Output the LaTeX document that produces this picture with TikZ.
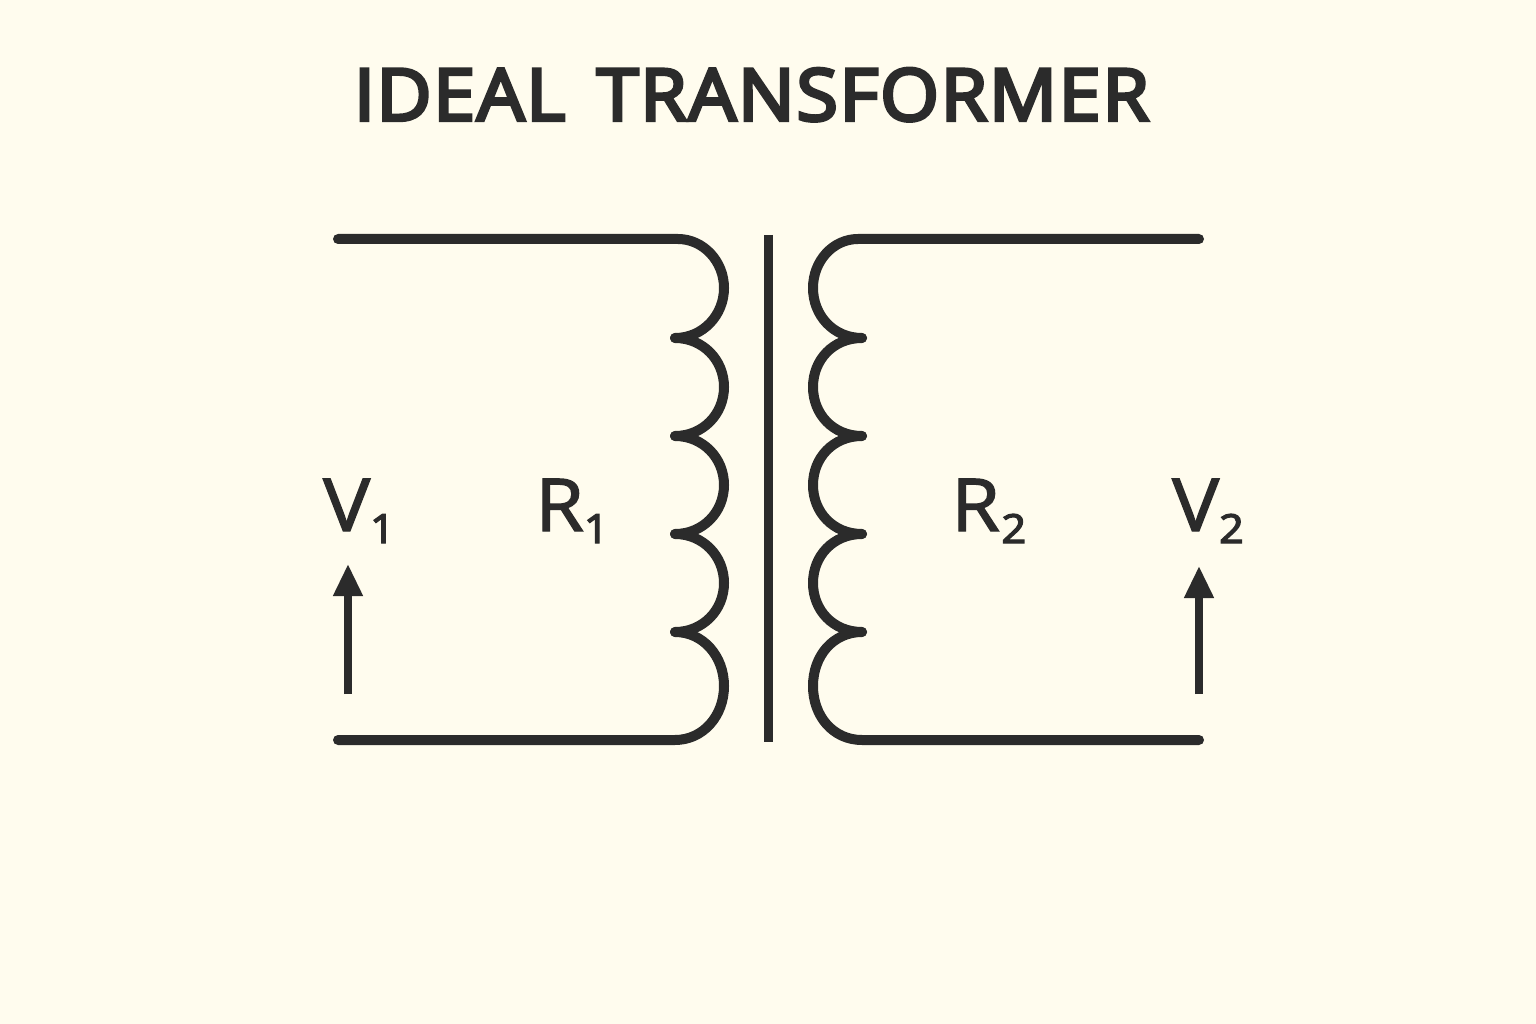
\documentclass[tikz,border=0pt]{standalone}
\usepackage{fontspec}
\setmainfont{Open Sans}[FakeStretch=1.08]
\newfontfamily\ttlf{Open Sans}[FakeStretch=1.05,LetterSpace=2.2,Kerning=Off]
\usetikzlibrary{arrows.meta}
\definecolor{ink}{HTML}{2B2B2B}
\definecolor{paper}{HTML}{FFFCEE}
\newcommand{\thick}[1]{\special{pdf:code 2 Tr #1 w}}
\newcommand{\unthick}{\special{pdf:code 0 Tr}}
\newcommand{\lbl}[2]{\thick{1.4}{\fontsize{73}{73}\selectfont #1}\kern0pt\raisebox{-12pt}{\fontsize{40}{40}\selectfont #2}\unthick}
\tikzset{
  wire/.style={draw=ink,line width=10pt,line cap=round,line join=round},
  core/.style={draw=ink,line width=9pt,line cap=butt},
  volt/.style={draw=ink,line width=7.5pt,-{Triangle[length=32pt,width=28pt]}},
  label/.style={text=ink,inner sep=0pt,anchor=base west},
  titletext/.style={text=ink,inner sep=0pt,anchor=base,font=\fontsize{72}{72}\ttlf}
}
\begin{document}
\begin{tikzpicture}[x=1pt,y=-1pt]
\useasboundingbox (0,0) rectangle (1536,1024);
\fill[paper] (0,0) rectangle (1536,1024);
\node[titletext] (title) at (751.5,120.5) {\thick{3.4}IDEAL\hspace{10pt} TRANSFORMER\unthick};
% left winding
\coordinate (a1) at (338,239);
\coordinate (a2) at (338,740);
\draw[wire] (a1) -- (678,239)
  .. controls (703,239) and (724,261) .. (724,288)
  .. controls (724,315) and (703,338) .. (675,338);
\draw[wire] (675,338)
  .. controls (703,338) and (724,360) .. (724,387)
  .. controls (724,414) and (703,436) .. (675,436);
\draw[wire] (675,436)
  .. controls (703,436) and (724,458) .. (724,485)
  .. controls (724,512) and (703,534) .. (675,534);
\draw[wire] (675,534)
  .. controls (703,534) and (724,556) .. (724,583)
  .. controls (724,610) and (703,632) .. (675,632);
\draw[wire] (675,632)
  .. controls (703,632) and (724,656) .. (724,686)
  .. controls (724,716) and (703,740) .. (675,740) -- (a2);
% core
\coordinate (c1) at (768,235);
\coordinate (c2) at (768,742);
\draw[core] (c1) -- (c2);
% right winding
\coordinate (b1) at (1199,239);
\coordinate (b2) at (1199,740);
\draw[wire] (b1) -- (858,239)
  .. controls (833,239) and (813,261) .. (813,288)
  .. controls (813,315) and (833,338) .. (862,338);
\draw[wire] (862,338)
  .. controls (833,338) and (813,360) .. (813,387)
  .. controls (813,414) and (833,436) .. (862,436);
\draw[wire] (862,436)
  .. controls (833,436) and (813,458) .. (813,485)
  .. controls (813,512) and (833,534) .. (862,534);
\draw[wire] (862,534)
  .. controls (833,534) and (813,556) .. (813,583)
  .. controls (813,610) and (833,632) .. (862,632);
\draw[wire] (862,632)
  .. controls (833,632) and (813,656) .. (813,686)
  .. controls (813,716) and (833,740) .. (862,740) -- (b2);
% voltage arrows
\coordinate (v1s) at (348,694);
\coordinate (v1e) at (348,564);
\coordinate (v2s) at (1199,694);
\coordinate (v2e) at (1199,566);
\draw[volt] (v1s) -- (v1e);
\draw[volt] (v2s) -- (v2e);
% labels
\node[label] (V1) at (323,531) {\lbl{V}{1}};
\node[label] (R1) at (535,531) {\lbl{R}{1}};
\node[label] (R2) at (951,531) {\thick{1.4}{\fontsize{73}{73}\selectfont R}\kern1.5pt\raisebox{-12pt}{\fontsize{40}{40}\selectfont 2}\unthick};
\node[label] (V2) at (1172,531) {\lbl{V}{2}};
\end{tikzpicture}
\end{document}
